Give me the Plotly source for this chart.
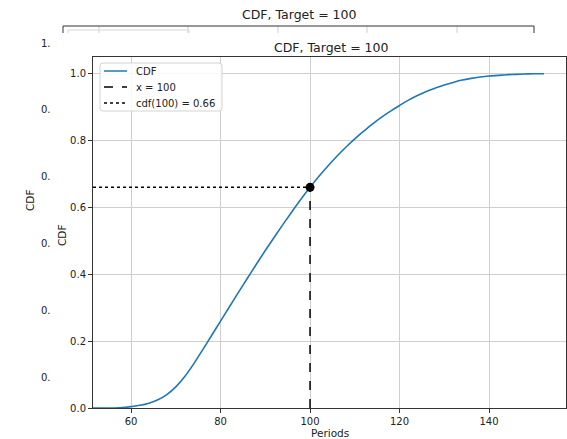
import plotly.graph_objects as go

# ---- data ----
periods = [51.5, 54, 56.3, 58, 60, 62, 64, 66, 68, 70, 72, 74, 76, 78, 80, 82, 84, 86, 88, 90,
           92, 94, 96, 98, 100, 102, 104, 106, 108, 110, 112, 114, 116, 118, 120,
           122, 124, 126, 128, 130, 132, 134, 136, 138, 140, 142, 144, 146, 148, 150, 152.3]
cdf_vals = [0.000, 0.000, 0.000, 0.001, 0.004, 0.008, 0.0145, 0.0245, 0.040, 0.063, 0.094, 0.132,
            0.174, 0.217, 0.260, 0.303, 0.346, 0.388, 0.430, 0.471, 0.511, 0.550, 0.588, 0.625,
            0.660, 0.693, 0.724, 0.753, 0.780, 0.805, 0.828, 0.850, 0.870, 0.888, 0.905,
            0.921, 0.935, 0.947, 0.957, 0.966, 0.974, 0.981, 0.986, 0.990, 0.993, 0.995,
            0.997, 0.998, 0.999, 1.000, 1.000]
target = 100
cdf_at_target = 0.66
x_range = [51.5, 157.2]
y_range = [0, 1.05]
x_ticks = [60, 80, 100, 120, 140]
y_ticks = [0.0, 0.2, 0.4, 0.6, 0.8, 1.0]
y_tick_text = ["0.0", "0.2", "0.4", "0.6", "0.8", "1.0"]
title_text = "CDF, Target = 100"
legend_labels = ["CDF", "x = 100", "cdf(100) = 0.66"]
ghost_tick_text = ["1.", "0.", "0.", "0.", "0.", "0."]

# ---- layout geometry (pixels) ----
W, H = 567, 439
L, R, T, B = 93, 566, 57, 408
FONT = "DejaVu Sans"
BLUE = "#1f77b4"


def px(xp):
    return (xp - L) / (R - L)


def py(yp):
    return (B - yp) / (B - T)


fig = go.Figure()
fig.add_trace(go.Scatter(x=periods, y=cdf_vals, mode="lines", name=legend_labels[0],
                         line=dict(color=BLUE, width=1.6, shape="spline", smoothing=1.0)))
fig.add_trace(go.Scatter(x=[target, target], y=[0, cdf_at_target], mode="lines",
                         name=legend_labels[1], line=dict(color="black", width=1.5, dash="dash")))
fig.add_trace(go.Scatter(x=[x_range[0], target], y=[cdf_at_target, cdf_at_target],
                         mode="lines", name=legend_labels[2],
                         line=dict(color="black", width=1.5, dash="dot")))
fig.add_trace(go.Scatter(x=[target], y=[cdf_at_target], mode="markers", showlegend=False,
                         marker=dict(color="black", size=9)))

axis_common = dict(showline=True, mirror=True, linecolor="#333333", linewidth=1,
                   ticks="outside", ticklen=4, tickcolor="#333333", tickwidth=1,
                   showgrid=True, gridcolor="#cfcfcf", gridwidth=1, zeroline=False,
                   tickfont=dict(family=FONT, size=10, color="#222222"))

fig.update_xaxes(range=x_range, tickvals=x_ticks, **axis_common)
fig.update_yaxes(range=y_range, tickvals=y_ticks, ticktext=y_tick_text, **axis_common)

annotations = []
shapes = []


def text(xp, yp, t, size=10, anchor="center", angle=0):
    annotations.append(dict(x=px(xp), y=py(yp), xref="paper", yref="paper", text=t,
                            showarrow=False, textangle=angle,
                            font=dict(family=FONT, size=size, color="#222222"),
                            xanchor=anchor, yanchor="middle"))


def seg(x0, y0, x1, y1, color, width=1, dash="solid"):
    shapes.append(dict(type="line", xref="paper", yref="paper",
                       x0=px(x0), y0=py(y0), x1=px(x1), y1=py(y1),
                       line=dict(color=color, width=width, dash=dash), layer="above"))


# main title and axis labels
text(330.5, 47, title_text, size=12.5)
text(329.5, 433, "Periods", size=10.5)
text(62, 236, "CDF", size=10.5, angle=-90)

# manual legend (matplotlib style)
bx0, by0, bx1, by1, r = 100, 63, 222, 111, 3
path = (f"M {px(bx0 + r)},{py(by0)} L {px(bx1 - r)},{py(by0)} "
        f"Q {px(bx1)},{py(by0)} {px(bx1)},{py(by0 + r)} L {px(bx1)},{py(by1 - r)} "
        f"Q {px(bx1)},{py(by1)} {px(bx1 - r)},{py(by1)} L {px(bx0 + r)},{py(by1)} "
        f"Q {px(bx0)},{py(by1)} {px(bx0)},{py(by1 - r)} L {px(bx0)},{py(by0 + r)} "
        f"Q {px(bx0)},{py(by0)} {px(bx0 + r)},{py(by0)} Z")
shapes.append(dict(type="path", xref="paper", yref="paper", path=path,
                   fillcolor="rgba(255,255,255,0.85)", line=dict(color="#d3d3d3", width=1),
                   layer="above"))
rows = [71, 87, 103]
styles = [(BLUE, "solid"), ("black", "dash"), ("black", "dot")]
for yy, (c, d), lab in zip(rows, styles, legend_labels):
    seg(104, yy, 127, yy, c, 1.5, d)
    text(134, yy, lab, size=10, anchor="left")

# ---- ghost (duplicate figure behind, shifted up-left) ----
text(299, 15, title_text, size=12.5)
text(30, 200, "CDF", size=10.5, angle=-90)
for i, t in enumerate(ghost_tick_text):
    text(39, 43 + i * 66.8, t, size=10, anchor="left")

for gx in [99, 188, 278, 367, 457]:
    seg(gx, 26, gx, 33, "#cfcfcf")
seg(68, 30, 189, 30, "#d8d8d8")
seg(68, 30, 68, 33, "#d8d8d8")
seg(189, 30, 189, 33, "#d8d8d8")
seg(63, 26, 534, 26, "#333333")
seg(63, 26, 63, 33, "#333333")
seg(534, 26, 534, 33, "#333333")

fig.update_layout(
    width=W, height=H,
    margin=dict(l=L, r=W - R, t=T, b=H - B, autoexpand=False),
    paper_bgcolor="white", plot_bgcolor="white",
    font=dict(family=FONT, size=10, color="#222222"),
    showlegend=False,
    annotations=annotations,
    shapes=shapes,
)

fig.write_html("out.html", config={"displayModeBar": False},
               post_script="document.body.style.margin='0';document.body.style.padding='0';")
